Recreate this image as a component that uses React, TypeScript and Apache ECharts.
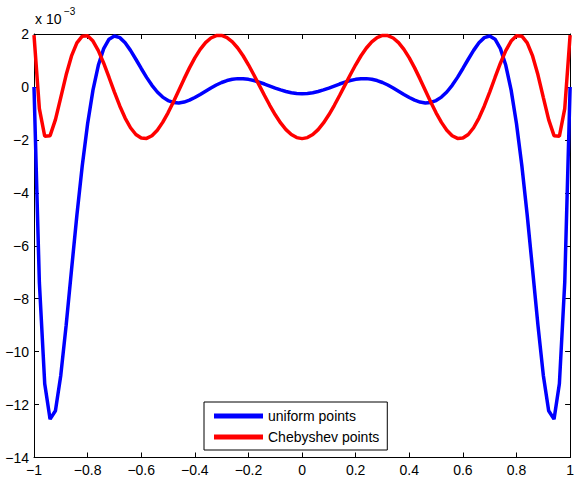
import React, { useEffect, useRef } from "react";
import * as echarts from "echarts";

const xs = [
  -1, -0.98, -0.96, -0.94, -0.92, -0.9, -0.88, -0.86, -0.84, -0.82,
  -0.8, -0.78, -0.76, -0.74, -0.72, -0.7, -0.68, -0.66, -0.64, -0.62,
  -0.6, -0.58, -0.56, -0.54, -0.52, -0.5, -0.48, -0.46, -0.44, -0.42,
  -0.4, -0.38, -0.36, -0.34, -0.32, -0.3, -0.28, -0.26, -0.24, -0.22,
  -0.2, -0.18, -0.16, -0.14, -0.12, -0.1, -0.08, -0.06, -0.04, -0.02,
  0,
  0.02, 0.04, 0.06, 0.08, 0.1, 0.12, 0.14, 0.16, 0.18, 0.2,
  0.22, 0.24, 0.26, 0.28, 0.3, 0.32, 0.34, 0.36, 0.38, 0.4,
  0.42, 0.44, 0.46, 0.48, 0.5, 0.52, 0.54, 0.56, 0.58, 0.6,
  0.62, 0.64, 0.66, 0.68, 0.7, 0.72, 0.74, 0.76, 0.78, 0.8,
  0.82, 0.84, 0.86, 0.88, 0.9, 0.92, 0.94, 0.96, 0.98, 1,
];

// values in units of 1e-3
const uniformErr = [
  0, -7.387, -11.214, -12.551, -12.232, -10.89, -9.001, -6.907, -4.848, -2.978,
  -1.388, -0.12, 0.819, 1.448, 1.802, 1.924, 1.863, 1.667, 1.381, 1.046,
  0.697, 0.361, 0.06, -0.191, -0.384, -0.515, -0.587, -0.603, -0.571, -0.5,
  -0.401, -0.285, -0.161, -0.039, 0.073, 0.168, 0.241, 0.29, 0.314, 0.312,
  0.287, 0.242, 0.181, 0.11, 0.034, -0.042, -0.112, -0.172, -0.218, -0.246,
  -0.256,
  -0.246, -0.218, -0.172, -0.112, -0.042, 0.034, 0.11, 0.181, 0.242, 0.287,
  0.312, 0.314, 0.29, 0.241, 0.168, 0.073, -0.039, -0.161, -0.285, -0.401,
  -0.5, -0.571, -0.603, -0.587, -0.515, -0.384, -0.191, 0.06, 0.361, 0.697,
  1.046, 1.381, 1.667, 1.863, 1.924, 1.802, 1.448, 0.819, -0.12, -1.388,
  -2.978, -4.848, -6.907, -9.001, -10.89, -12.232, -12.551, -11.214, -7.387, 0,
];

const chebyshevErr = [
  1.953, -0.819, -1.864, -1.841, -1.236, -0.392, 0.459, 1.171, 1.667, 1.918,
  1.931, 1.734, 1.372, 0.896, 0.357, -0.195, -0.718, -1.175, -1.541, -1.796,
  -1.931, -1.944, -1.842, -1.635, -1.339, -0.977, -0.566, -0.132, 0.304, 0.72,
  1.098, 1.42, 1.674, 1.849, 1.94, 1.944, 1.864, 1.703, 1.471, 1.178,
  0.837, 0.462, 0.07, -0.323, -0.702, -1.052, -1.36, -1.612, -1.799, -1.914,
  -1.953,
  -1.914, -1.799, -1.612, -1.36, -1.052, -0.702, -0.323, 0.07, 0.462, 0.837,
  1.178, 1.471, 1.703, 1.864, 1.944, 1.94, 1.849, 1.674, 1.42, 1.098,
  0.72, 0.304, -0.132, -0.566, -0.977, -1.339, -1.635, -1.842, -1.944, -1.931,
  -1.796, -1.541, -1.175, -0.718, -0.195, 0.357, 0.896, 1.372, 1.734, 1.931,
  1.918, 1.667, 1.171, 0.459, -0.392, -1.236, -1.841, -1.864, -0.819, 1.953,
];

const seriesNames = ["uniform points", "Chebyshev points"];
const FONT = "Liberation Sans, Arial, sans-serif";

const fmtX = (v: number) => String(Math.round(v * 10) / 10).replace("-", "\u2212");
const fmtY = (v: number) => String(Math.round(v)).replace("-", "\u2212");

export default function App() {
  const ref = useRef<HTMLDivElement>(null);
  useEffect(() => {
    if (!ref.current) return;
    const chart = echarts.init(ref.current, null, { renderer: "svg" });
    const axisLine = { show: true, onZero: false, lineStyle: { color: "#000", width: 1 } };
    const tick = { show: true, inside: true, length: 5, lineStyle: { color: "#000" } };
    const label = { fontFamily: FONT, fontSize: 14, color: "#000" };
    chart.setOption({
      animation: false,
      backgroundColor: "#fff",
      grid: { left: 34, right: 3.5, top: 34, bottom: 19.5, containLabel: false },
      xAxis: [
        {
          type: "value", min: -1, max: 1, interval: 0.2, position: "bottom",
          axisLine, axisTick: tick, splitLine: { show: false },
          axisLabel: { ...label, margin: 5, formatter: fmtX },
        },
        {
          type: "value", min: -1, max: 1, interval: 0.2, position: "top",
          axisLine, axisTick: tick, splitLine: { show: false },
          axisLabel: { show: false },
        },
      ],
      yAxis: [
        {
          type: "value", min: -14, max: 2, interval: 2, position: "left",
          axisLine, axisTick: tick, splitLine: { show: false },
          axisLabel: { ...label, margin: 5, formatter: fmtY },
        },
        {
          type: "value", min: -14, max: 2, interval: 2, position: "right",
          axisLine, axisTick: tick, splitLine: { show: false },
          axisLabel: { show: false },
        },
      ],
      legend: {
        orient: "vertical",
        left: 204,
        top: 402,
        padding: [6, 8, 5, 10],
        itemWidth: 49,
        itemHeight: 5,
        itemGap: 5,
        itemTextGap: 6,
        icon: "rect",
        borderColor: "#000",
        borderWidth: 1,
        backgroundColor: "#fff",
        textStyle: { fontFamily: FONT, fontSize: 14, color: "#000", lineHeight: 16 },
        data: seriesNames,
      },
      series: [
        {
          name: seriesNames[0],
          type: "line",
          showSymbol: false,
          color: "#0000ff",
          lineStyle: { color: "#0000ff", width: 3.5 },
          data: xs.map((x, i) => [x, uniformErr[i]]),
          z: 2,
        },
        {
          name: seriesNames[1],
          type: "line",
          showSymbol: false,
          color: "#ff0000",
          lineStyle: { color: "#ff0000", width: 3.5 },
          data: xs.map((x, i) => [x, chebyshevErr[i]]),
          z: 3,
        },
      ],
      graphic: [
        {
          type: "text", left: 35, top: 12,
          style: { text: "x 10", font: `14px ${FONT}`, fill: "#000" },
        },
        {
          type: "text", left: 64, top: 6,
          style: { text: "\u22123", font: `10px ${FONT}`, fill: "#000" },
        },
      ],
    });
    return () => chart.dispose();
  }, []);
  return (
    <div
      ref={ref}
      style={{ position: "fixed", left: 0, top: 0, width: 577, height: 477 }}
    />
  );
}
